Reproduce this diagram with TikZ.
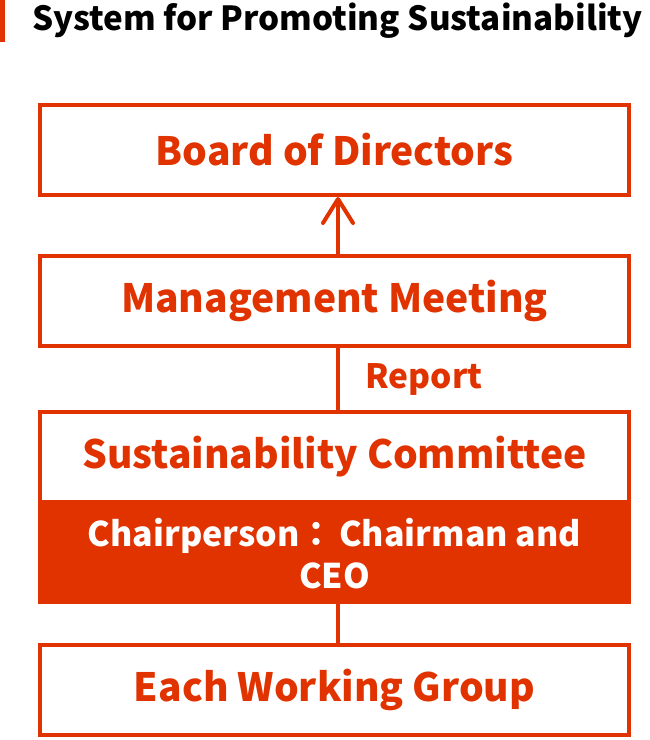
\documentclass[tikz,border=0pt]{standalone}
\usepackage{fontspec}
\setmainfont{Noto Sans CJK JP}
\usetikzlibrary{positioning,arrows.meta}
\definecolor{sred}{RGB}{224,51,0}
\tikzset{
  orgbox/.style={draw=sred, line width=4pt, fill=white, minimum width=589pt, minimum height=90pt, inner sep=0pt, text=sred, font=\fontsize{39}{44}\selectfont\bfseries},
  chairbox/.style={draw=sred, line width=4pt, fill=sred, minimum width=589pt, minimum height=96pt, inner sep=0pt, text=white, align=center, font=\fontsize{34}{42}\selectfont\bfseries},
  link/.style={draw=sred, line width=4pt}
}
\begin{document}
\begin{tikzpicture}[x=1pt,y=-1pt]
				\useasboundingbox (0,0) rectangle (650,740);
				% title
				\fill[sred] (0,0) rectangle (5,42);
				\node[anchor=west, inner sep=0pt, font=\fontsize{33.2}{38}\selectfont\bfseries] (title) at (32,21) {System for Promoting Sustainability};
				% boxes
				\node[orgbox] (board) at (334.5,150) {Board of Directors};
				\node[orgbox] (mgmt) at (334.5,301) {Management Meeting};
				\node[orgbox] (sust) at (334.5,457) {Sustainability Committee};
				\node[chairbox, below=0pt of sust] (chair) {Chairperson：\,Chairman and\\CEO};
				\node[orgbox] (group) at (334.5,690) {Each Working Group};
				% links
				\draw[link, -{Straight Barb[length=24pt,width=30pt,line cap=round,line join=round]}] (mgmt.north -| 338,0) -- (board.south -| 338,0);
				\draw[link] (mgmt.south -| 338,0) -- (sust.north -| 338,0);
				\draw[link] (chair.south -| 338,0) -- (group.north -| 338,0);
				\node[text=sred, font=\fontsize{33.5}{38}\selectfont\bfseries] (report) at (424,379) {Report};
			\end{tikzpicture}
\end{document}
